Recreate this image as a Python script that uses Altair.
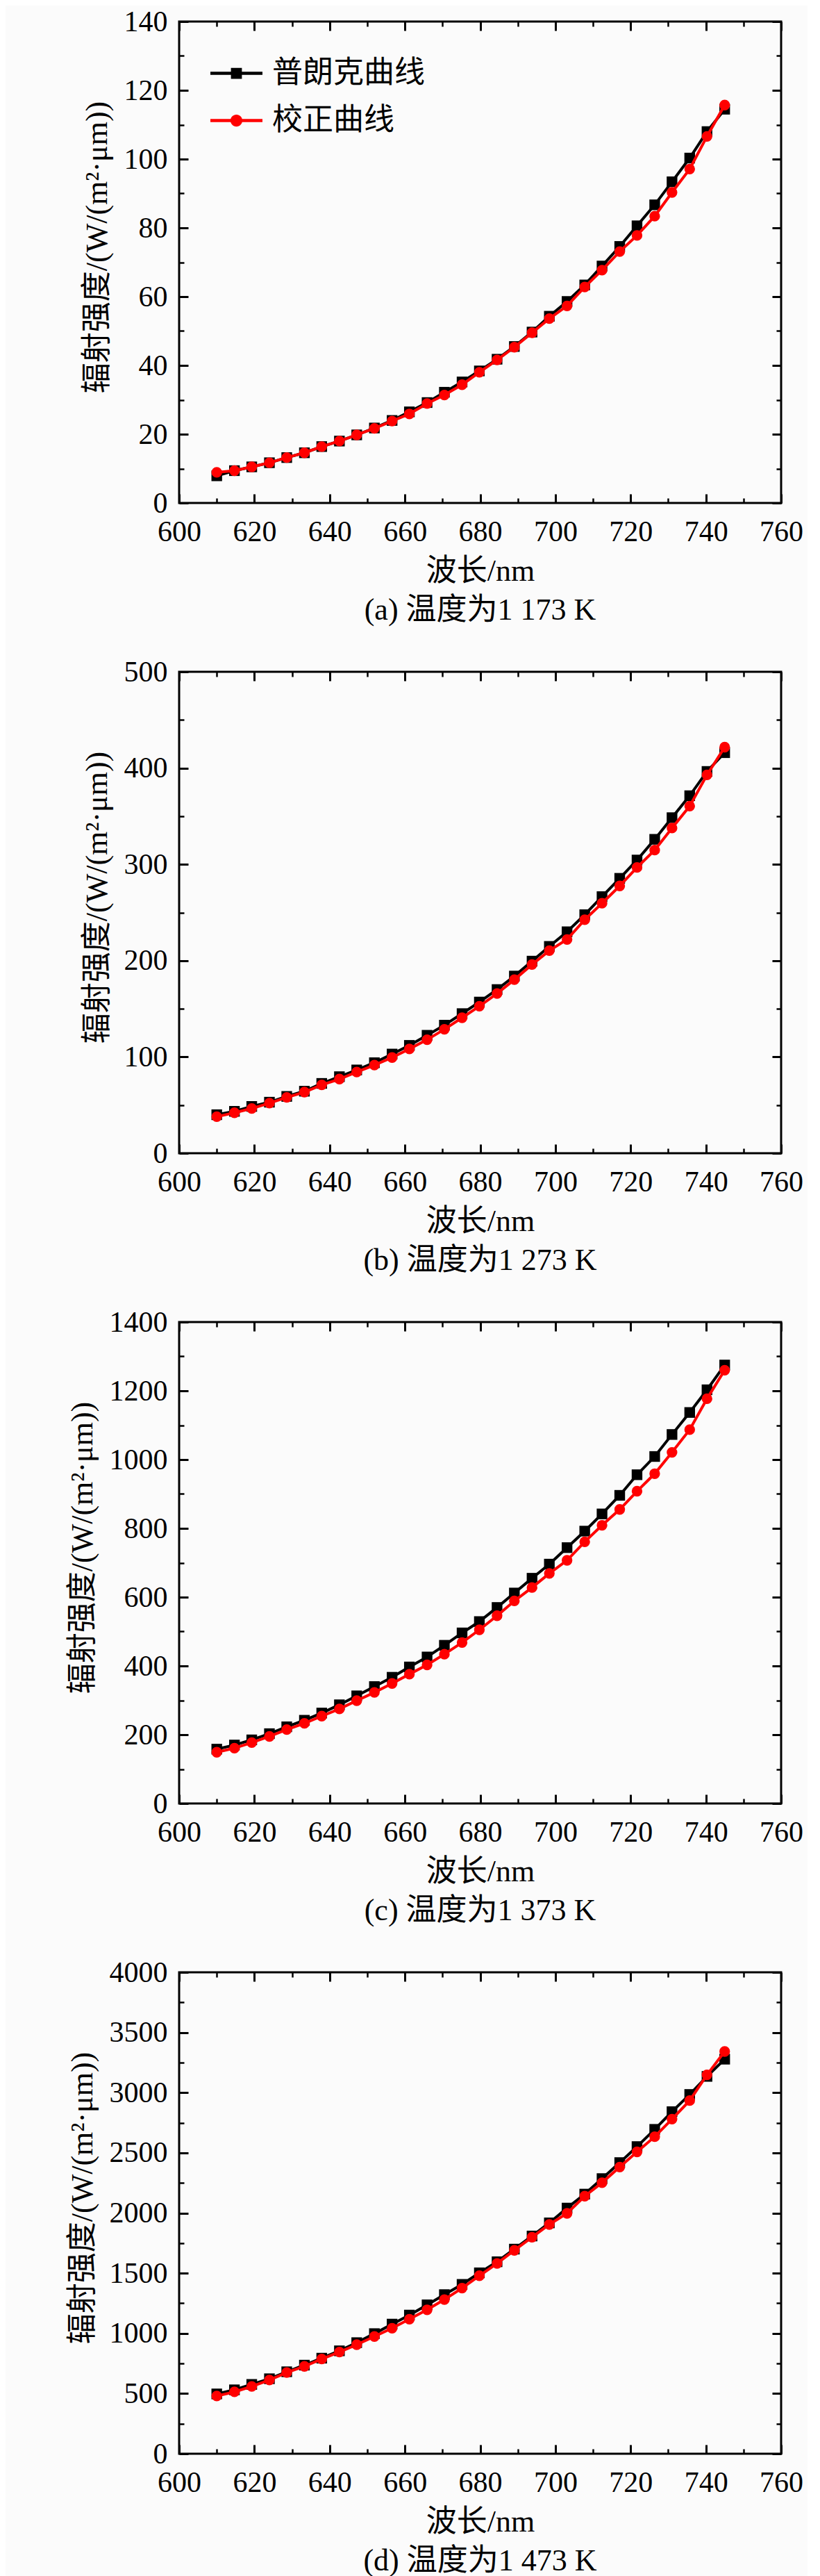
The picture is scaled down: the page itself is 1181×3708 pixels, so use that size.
import altair as alt
import pandas as pd

FONT = "Liberation Serif, Noto Sans CJK SC"
NAMES = ["普朗克曲线", "校正曲线"]

# wavelength of each sample, nm
wavelength = [610.0, 614.7, 619.3, 624.0, 628.6, 633.3, 637.9, 642.6, 647.2, 651.9,
              656.6, 661.2, 665.9, 670.5, 675.2, 679.8, 684.5, 689.1, 693.8, 698.4,
              703.1, 707.8, 712.4, 717.1, 721.7, 726.4, 731.0, 735.7, 740.3, 745.0]

# (a) 1 173 K
planck_a = [7.9, 9.4, 10.5, 11.7, 13.2, 14.6, 16.4, 18.0, 19.8, 21.8,
            24.0, 26.5, 29.2, 32.2, 35.2, 38.4, 41.8, 45.5, 49.7, 54.3,
            58.6, 63.4, 68.9, 74.6, 80.6, 86.7, 93.4, 100.3, 108.0, 114.5]
corr_a = [8.9, 9.4, 10.5, 11.7, 13.2, 14.6, 16.4, 18.0, 19.8, 21.7,
          23.8, 25.9, 28.9, 31.4, 34.4, 38.0, 41.6, 45.3, 49.5, 53.6,
          57.3, 62.8, 67.7, 73.1, 77.8, 83.4, 90.3, 97.1, 106.6, 115.7]

# (b) 1 273 K
planck_b = [40, 43.5, 48.6, 53, 59, 64.4, 72.5, 79.5, 86.5, 94,
            103, 112, 122.5, 133, 145, 157, 170, 184, 199.5, 214.8,
            230, 247.7, 266.5, 285.5, 304.5, 326, 348.5, 371.3, 396.5, 416]
corr_b = [38, 42, 46.5, 52, 58, 63.5, 71, 77, 84.3, 91.5,
          99.4, 108.3, 117.9, 128.7, 140.7, 152.7, 165.9, 180.3, 196, 210.4,
          222, 242.5, 259.6, 277.6, 296.8, 314.8, 337.7, 360.5, 392.9, 421.7]

# (c) 1 373 K
planck_c = [158, 170, 185, 203, 223, 242, 263, 287, 313, 340,
            367, 397, 426, 460, 496, 529, 570, 612, 655, 696,
            744, 792, 842, 896, 956, 1009, 1073, 1137, 1203, 1275]
corr_c = [149, 161, 177, 195, 215, 233, 254, 275, 299, 323,
          349, 376, 403, 434, 468, 505, 546, 589, 628, 669,
          707, 761, 809, 855, 908, 959, 1021, 1087, 1177, 1260]

# (d) 1 473 K
planck_d = [497, 531, 576, 623, 681, 736, 794, 855, 923, 998,
            1077, 1152, 1237, 1322, 1407, 1503, 1595, 1700, 1809, 1918,
            2041, 2157, 2286, 2419, 2552, 2695, 2842, 2985, 3135, 3278]
corr_d = [480, 514, 559, 613, 675, 726, 787, 845, 906, 974,
          1043, 1118, 1196, 1281, 1376, 1479, 1581, 1690, 1799, 1905,
          1997, 2140, 2252, 2382, 2508, 2634, 2780, 2934, 3148, 3342]

x_major = [600, 620, 640, 660, 680, 700, 720, 740, 760]
x_minor = [610, 630, 650, 670, 690, 710, 730, 750]

captions = ["(a) 温度为1 173 K", "(b) 温度为1 273 K",
            "(c) 温度为1 373 K", "(d) 温度为1 473 K"]

# legend symbols: a line with the marker on it
SQ_PATH = "M-1,-0.06H1V0.06H-1Z M-0.21,-0.21H0.21V0.21H-0.21Z"
CI_PATH = "M-1,-0.06H1V0.06H-1Z M-0.23,0A0.23,0.23 0 1,1 0.23,0A0.23,0.23 0 1,1 -0.23,0Z"

W, H = 867, 693


def ax(orient, values, size, labels=False, title=None, title_y=None,
       pad=18, lpad=17):
    kw = dict(orient=orient, values=values, tickSize=size, offset=-size,
              domain=False, grid=False, labels=labels, tickColor='black',
              tickWidth=3 if size > 10 else 2.5, title=title)
    if labels:
        kw.update(labelFont=FONT, labelFontSize=42, labelColor='black',
                  labelPadding=lpad, labelFlush=False, labelOverlap=False,
                  format='d')
    if title:
        kw.update(titleFont=FONT, titleFontSize=44, titleFontWeight='normal',
                  titleColor='black', titlePadding=pad)
    if title_y is not None:
        kw['titleY'] = title_y
    return alt.Axis(**kw)


def panel(planck, corrected, y_major, y_minor, caption):
    n = len(wavelength)
    df = pd.DataFrame({'wavelength': wavelength * 2,
                       'value': planck + corrected,
                       'series': [NAMES[0]] * n + [NAMES[1]] * n})
    xs = alt.Scale(domain=[600, 760], nice=False)
    ys = alt.Scale(domain=[0, y_major[-1]], nice=False)
    base = alt.Chart(df)
    black = base.transform_filter(alt.datum.series == NAMES[0])
    red = base.transform_filter(alt.datum.series == NAMES[1])

    l1 = black.mark_line(color='black', strokeWidth=4).encode(
        x=alt.X('wavelength:Q', scale=xs,
                axis=ax('bottom', x_major, 13, labels=True, title='波长/nm',
                        pad=14, lpad=21)),
        y=alt.Y('value:Q', scale=ys,
                axis=ax('left', y_major, 13, labels=True,
                        title='辐射强度/(W/(m²·μm))', title_y=H / 2 - 22, pad=16)))
    l2 = black.mark_point(shape='square', filled=True, size=235,
                          color='black', opacity=1).encode(
        x=alt.X('wavelength:Q', scale=xs, axis=ax('top', x_major, 13)),
        y=alt.Y('value:Q', scale=ys, axis=ax('right', y_major, 13)))
    l3 = red.mark_line(color='red', strokeWidth=4).encode(
        x=alt.X('wavelength:Q', scale=xs, axis=ax('bottom', x_minor, 7)),
        y=alt.Y('value:Q', scale=ys, axis=ax('left', y_minor, 7)))
    l4 = red.mark_point(shape='circle', filled=True, size=235,
                        color='red', opacity=1).encode(
        x=alt.X('wavelength:Q', scale=xs, axis=ax('top', x_minor, 7)),
        y=alt.Y('value:Q', scale=ys, axis=ax('right', y_minor, 7)))

    leg = alt.Legend(title=None, orient='none', legendX=45, legendY=37,
                     padding=0, symbolSize=5625, symbolOpacity=1,
                     symbolStrokeWidth=0, labelFont=FONT, labelFontSize=44,
                     labelColor='black', labelOffset=14, rowPadding=8,
                     labelLimit=500)
    l5 = base.mark_point(filled=True, opacity=0).encode(
        x=alt.X('wavelength:Q', scale=xs, axis=None),
        y=alt.Y('value:Q', scale=ys, axis=None),
        color=alt.Color('series:N', sort=NAMES, legend=leg,
                        scale=alt.Scale(domain=NAMES, range=['black', 'red'])),
        shape=alt.Shape('series:N', sort=NAMES, legend=leg,
                        scale=alt.Scale(domain=NAMES, range=[SQ_PATH, CI_PATH])))

    return alt.layer(l1, l2, l3, l4, l5).resolve_axis(
        x='independent', y='independent').properties(
        width=W, height=H,
        title=alt.TitleParams(caption, orient='bottom', font=FONT, fontSize=44,
                              fontWeight='normal', color='black', offset=13,
                              frame='group', anchor='middle'))


pa = panel(planck_a, corr_a, list(range(0, 141, 20)), list(range(10, 140, 20)), captions[0])
pb = panel(planck_b, corr_b, list(range(0, 501, 100)), list(range(50, 500, 100)), captions[1])
pc = panel(planck_c, corr_c, list(range(0, 1401, 200)), list(range(100, 1400, 200)), captions[2])
pd_ = panel(planck_d, corr_d, list(range(0, 4001, 500)), list(range(250, 4000, 500)), captions[3])

chart = alt.vconcat(pa, pb, pc, pd_, spacing=243, bounds='flush').properties(
    padding={'left': 87, 'top': 0, 'right': 5, 'bottom': 0},
    background='#fbfbfb'
).configure_view(stroke='black', strokeWidth=3)

chart.save("out.html", embed_options={"renderer": "svg", "actions": False})
